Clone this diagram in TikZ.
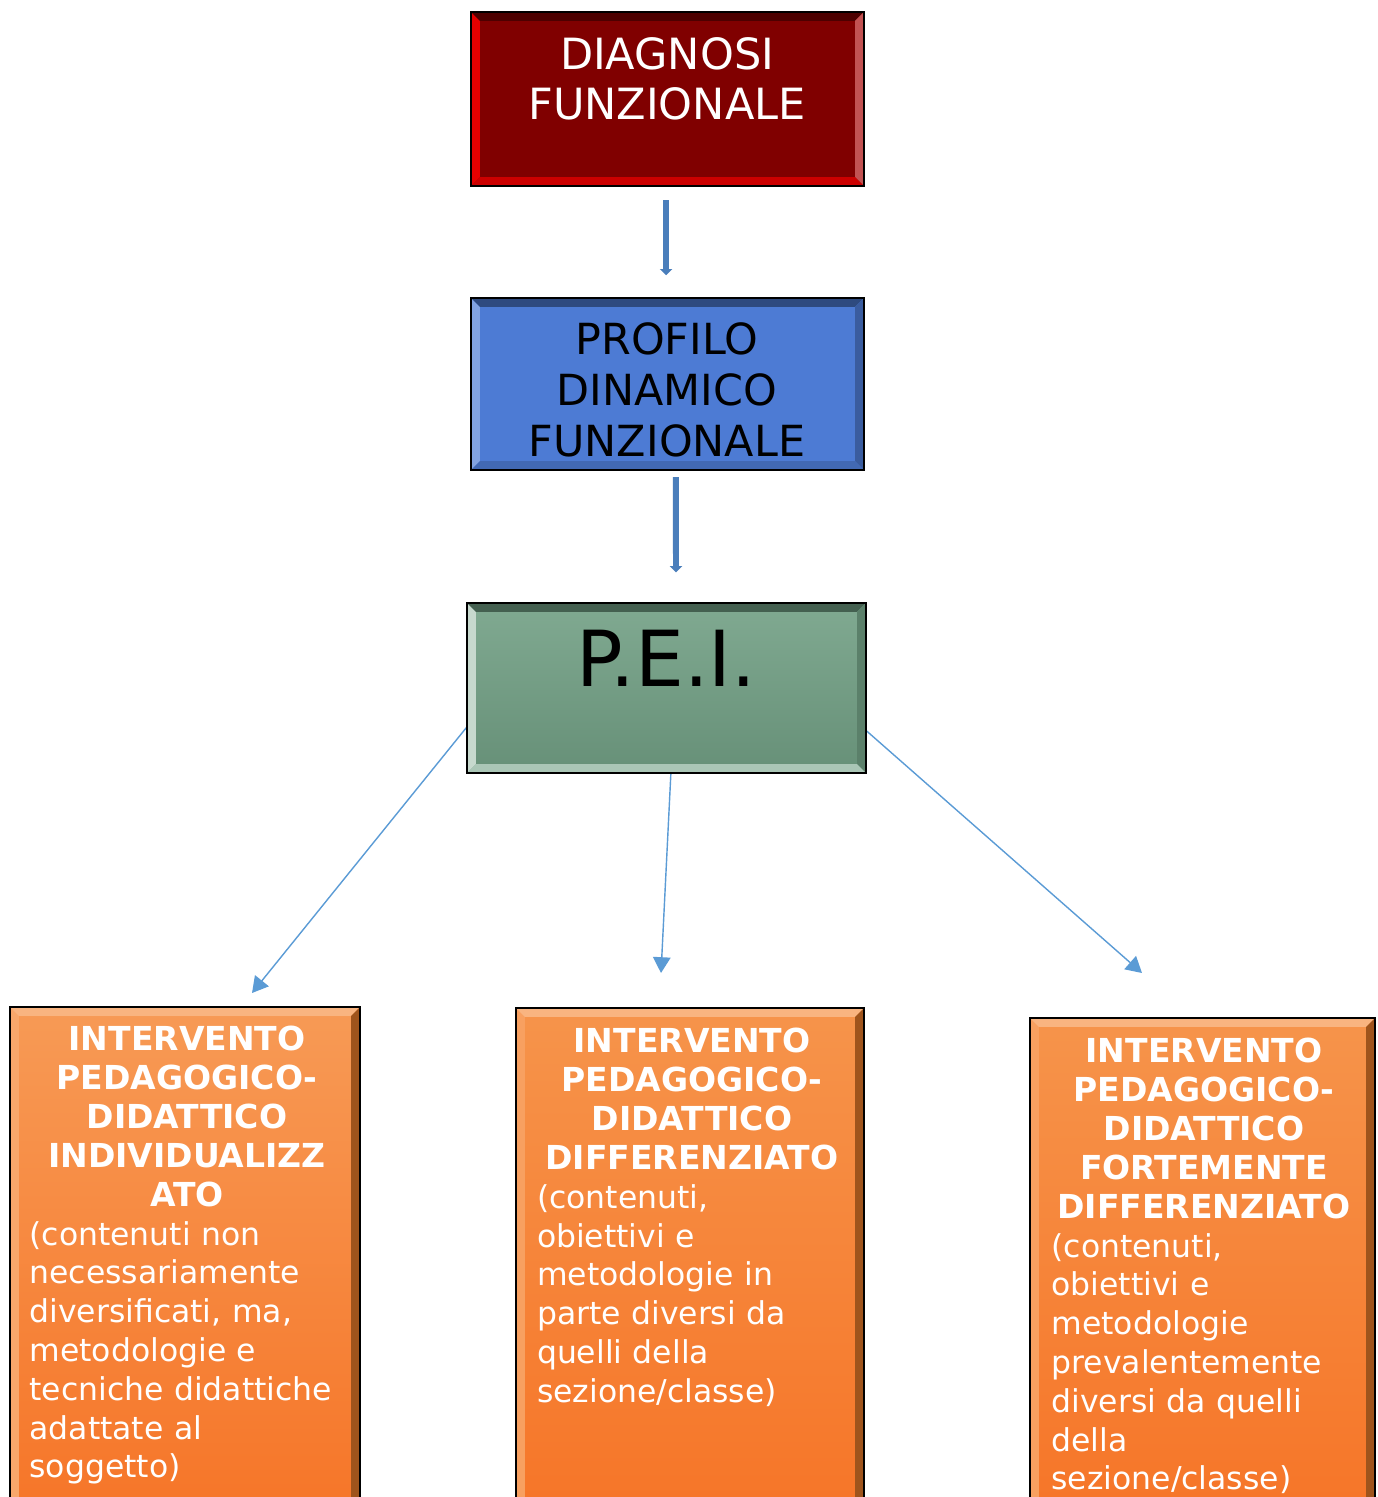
\documentclass[tikz,border=0pt]{standalone}
\usepackage{fontspec}
\setmainfont{DejaVu Sans}
\usetikzlibrary{arrows.meta}
\pgfdeclarelayer{background}
\pgfsetlayers{background,main}
\definecolor{rosso}{HTML}{800000}
\definecolor{blu}{HTML}{4D7BD4}
\definecolor{verde}{HTML}{72A085}
\definecolor{arancio}{HTML}{F5812B}
\definecolor{linea}{HTML}{5B9BD5}
\definecolor{bloccoarr}{HTML}{4A7EBB}
\newcommand{\testafont}{\fontsize{18.8}{22.1}\selectfont\bfseries}
\tikzset{
  blocco/.style={rectangle,inner sep=0,outer sep=0},
  titolo/.style={align=center,inner sep=0,font=\fontsize{24.5}{28.5}\selectfont},
  testo/.style={inner sep=0,anchor=north,text=white,font=\fontsize{17.9}{22.1}\selectfont},
  freccia/.style={line width=3.4pt,bloccoarr,-{Triangle[width=7pt,length=3.5pt]}},
  filo/.style={line width=0.8pt,linea,-{Triangle[width=10pt,length=9pt]}}
}
\newcommand{\Blocco}[5]% pos, name, width, height, look
{\node[blocco,minimum width=#3,minimum height=#4,#5] (#2) at (#1) {};
}
\newcommand{\Smusso}[5]% name, left, top, right, bottom
{ \fill[#2] (#1.north west) -- (#1.south west) -- ([xshift=5pt,yshift=5pt]#1.south west) -- ([xshift=5pt,yshift=-5pt]#1.north west) -- cycle;
  \fill[#3] (#1.north west) -- (#1.north east) -- ([xshift=-5pt,yshift=-5pt]#1.north east) -- ([xshift=5pt,yshift=-5pt]#1.north west) -- cycle;
  \fill[#4] (#1.north east) -- (#1.south east) -- ([xshift=-5pt,yshift=5pt]#1.south east) -- ([xshift=-5pt,yshift=-5pt]#1.north east) -- cycle;
  \fill[#5] (#1.south west) -- (#1.south east) -- ([xshift=-5pt,yshift=5pt]#1.south east) -- ([xshift=5pt,yshift=5pt]#1.south west) -- cycle;
  \draw[line width=1.6pt] (#1.north west) rectangle (#1.south east);
}
\newcommand{\Freccia}[3]% from, to, look
{ \begin{pgfonlayer}{background}
    \draw[#3] (#1) -- (#2);
  \end{pgfonlayer}
}
\begin{document}
\begin{tikzpicture}[x=0.02cm,y=-0.02cm]
  \clip (0,0) rectangle (1377,1497);
  % upper boxes
  \Blocco{667.5,99}{diag}{7.86cm}{3.48cm}{fill=rosso}
  \Smusso{diag}{red!80!rosso}{rosso!60!black}{rosso!60!white!80!red}{red!60!rosso}
  \Blocco{667.5,384}{prof}{7.86cm}{3.44cm}{fill=blu}
  \Smusso{prof}{blu!70!white}{blu!60!black}{blu!75!black}{blu!85!black}
  \Blocco{666.5,688}{pei}{7.98cm}{3.4cm}{top color=verde!90!white,bottom color=verde!90!black}
  \Smusso{pei}{verde!40!white}{verde!60!black}{verde!80!black}{verde!60!white}
  % lower boxes
  \Blocco{185,1268.5}{ind}{7cm}{10.46cm}{top color=arancio!80!white,bottom color=arancio!90!red}
  \Smusso{ind}{arancio!70!white}{arancio!60!white}{arancio!65!black}{arancio}
  \Blocco{690,1269}{dif}{6.96cm}{10.44cm}{top color=arancio!85!white,bottom color=arancio!90!red}
  \Smusso{dif}{arancio!75!white}{arancio!60!white}{arancio!65!black}{arancio}
  \Blocco{1202.5,1274}{fort}{6.9cm}{10.24cm}{top color=arancio!85!white,bottom color=arancio!90!red}
  \Smusso{fort}{arancio!75!white}{arancio!60!white}{arancio!65!black}{arancio}
  % texts
  \node[titolo,text=white] (diag-t) at (667,79) {DIAGNOSI\\FUNZIONALE};
  \node[titolo,font=\fontsize{24.4}{29.2}\selectfont] (prof-t) at (667,390) {PROFILO\\DINAMICO\\FUNZIONALE};
  \node[titolo,font=\fontsize{44}{48}\selectfont] (pei-t) at (666,658) {P.E.I.};
  \node[testo,text width=6.3cm] (ind-t) at (187,1026)
    {{\centering\testafont INTERVENTO\\PEDAGOGICO-\\DIDATTICO\\INDIVIDUALIZZ\\ATO\par}
     \raggedright(contenuti non\\necessariamente\\diversificati, ma,\\metodologie e\\tecniche didattiche\\adattate al\\soggetto)};
  \node[testo,text width=6.2cm] (dif-t) at (692,1028)
    {{\centering\testafont INTERVENTO\\PEDAGOGICO-\\DIDATTICO\\DIFFERENZIATO\par}
     \raggedright(contenuti,\\obiettivi e\\metodologie in\\parte diversi da\\quelli della\\sezione/classe)};
  \node[testo,text width=6.1cm] (fort-t) at (1204,1038)
    {{\centering\testafont INTERVENTO\\PEDAGOGICO-\\DIDATTICO\\FORTEMENTE\\DIFFERENZIATO\par}
     \raggedright(contenuti,\\obiettivi e\\metodologie\\prevalentemente\\diversi da quelli\\della\\sezione/classe)};
  % connectors
  \coordinate (f1) at (252,993);
  \coordinate (f2) at (661,973);
  \coordinate (f3) at (1142,973);
  \Freccia{[xshift=-0.8pt,yshift=-8pt]diag.south}{[xshift=-0.8pt,yshift=13pt]prof.north}{freccia}
  \Freccia{[xshift=4.8pt,yshift=-4pt]prof.south}{[xshift=5.4pt,yshift=17.5pt]pei.north}{freccia}
  \Freccia{pei.191}{f1}{filo}
  \Freccia{[xshift=2.5pt]pei.south}{f2}{filo}
  \Freccia{pei.-12}{f3}{filo}
\end{tikzpicture}
\end{document}
